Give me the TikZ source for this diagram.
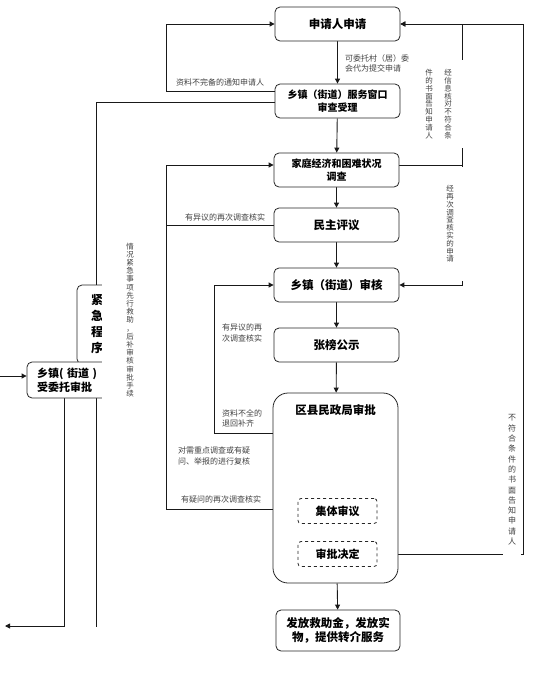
\documentclass[tikz,border=0pt]{standalone}
\usepackage{fontspec}
\setmainfont{Noto Sans CJK SC}
\usetikzlibrary{arrows.meta,backgrounds}
\begin{document}
\begin{tikzpicture}[x=1pt,y=-1pt,
  box/.style={draw=black!85, line width=0.8pt, rounded corners=5pt, fill=white,
    minimum width=125pt, minimum height=34pt, align=center, inner sep=2pt,
    font=\fontsize{11.5}{14}\selectfont\bfseries},
  dbox/.style={draw=black!85, line width=0.8pt, dashed, rounded corners=3pt, fill=white,
    minimum width=79pt, minimum height=25pt, font=\fontsize{11}{13}\selectfont\bfseries},
  lab/.style={font=\fontsize{8}{10.5}\selectfont, text=black!75, inner sep=1pt, align=left},
  vlab/.style={fill=white, text=black!75, align=center, inner sep=0pt,
    font=\fontsize{7.5}{7.8}\selectfont},
  conn/.style={line width=0.9pt, draw=black!90},
  arr/.style={conn, -{Triangle[length=5pt,width=5pt]}}
]
\useasboundingbox (0,0) rectangle (553,683);

% main column
\node[box] (b1) at (337.5,24) {申请人申请};
\node[box, font=\fontsize{10}{12.5}\selectfont\bfseries] (b2) at (337.5,101) {乡镇（街道）服务窗口\\审查受理};
\node[box, font=\fontsize{10}{13}\selectfont\bfseries] (b3) at (336.5,170) {家庭经济和困难状况\\调查};
\node[box] (b4) at (336.5,225) {民主评议};
\node[box] (b5) at (336.5,285) {乡镇（街道）审核};
\node[box] (b6) at (336.5,345) {张榜公示};
\node[box, rounded corners=15pt, minimum height=190pt] (b7) at (335.5,488) {};
\node[font=\fontsize{11.5}{14}\selectfont\bfseries] (b7t) at (335.5,410) {区县民政局审批};
\node[dbox] (b8) at (337.5,511) {集体审议};
\node[dbox] (b9) at (337.5,554) {审批决定};
\node[box, minimum height=41pt, minimum width=124pt, font=\fontsize{11.5}{14}\selectfont\bfseries] (b10) at (338,630.5) {发放救助金，发放实\\物，提供转介服务};

% emergency branch
\node[box, minimum width=40pt, minimum height=79pt, font=\fontsize{12}{16}\selectfont\bfseries] (jj) at (97,324.5) {紧\\急\\程\\序};
\node[box, minimum width=90pt, minimum height=36pt, text width=70pt, inner xsep=10pt, align=left,
  font=\fontsize{11}{14}\selectfont\bfseries] (sw) at (72,380) {乡镇( 街道 )\\受委托审批};
\node[vlab, minimum width=56pt, minimum height=170pt, font=\fontsize{7.5}{8.2}\selectfont] (qk) at (130,320)
  {情\\况\\紧\\急\\事\\项\\先\\行\\救\\助\\，\\后\\补\\审\\核\\审\\批\\手\\续};

% vertical labels on the right (white boxes over lines)
\node[vlab, minimum width=44pt, minimum height=88pt] (v1) at (448,104) {经\\信\\息\\核\\对\\不\\符\\合\\条};
\node[vlab, minimum width=14pt, minimum height=88pt] (v2) at (429,104) {件\\的\\书\\面\\告\\知\\申\\请\\人};
\node[vlab, minimum width=40pt, minimum height=114pt] (v3) at (450,224) {经\\再\\次\\调\\查\\核\\实\\的\\申\\请};
\node[vlab, minimum width=18pt, minimum height=156pt, font=\fontsize{8}{10.3}\selectfont] (v4) at (512,480)
  {不\\符\\合\\条\\件\\的\\书\\面\\告\\知\\申\\请\\人};

% horizontal labels
\node[lab] (l1) at (220,82) {资料不完备的通知申请人};
\node[lab, anchor=north west] (l2) at (344,53) {可委托村（居）委\\会代为提交申请};
\node[lab] (l3) at (225,217) {有异议的再次调查核实};
\node[lab, anchor=north west] (l4) at (221,323) {有异议的再\\次调查核实};
\node[lab, anchor=north west] (l5) at (221,408) {资料不全的\\退回补齐};
\node[lab, anchor=west] (l6) at (177,456) {对需重点调查或有疑\\问、举报的进行复核};
\node[lab] (l7) at (221,499) {有疑问的再次调查核实};

% coordinates
\coordinate (c1) at (166,91);
\coordinate (c2) at (166,24);
\coordinate (c3) at (96,102);
\coordinate (c4) at (96,627);
\coordinate (c5) at (166,509);
\coordinate (c6) at (166,165);
\coordinate (c7) at (166,225);
\coordinate (c8) at (214,433);
\coordinate (c9) at (214,285);
\coordinate (c10) at (462,165);
\coordinate (c11) at (462,24);
\coordinate (c12) at (462,285);
\coordinate (c13) at (523,554);
\coordinate (c14) at (523,24);
\coordinate (c15) at (0,376);
\coordinate (c16) at (64,626);
\coordinate (c17) at (5,626);

\begin{scope}[on background layer]
  \draw[arr] (b1) -- (b2);
  \draw[arr] (b2) -- (b3);
  \draw[arr] (b3) -- (b4);
  \draw[arr] (b4) -- (b5);
  \draw[arr] (b5) -- (b6);
  \draw[arr] (b6) -- (b7);
  \draw[arr] (b7) -- (b10);
  \draw[arr] (b2.west |- c1) -- (c1) -- (c2) -- (b1.west);
  \draw[conn] (b2.west |- c3) -- (c3) -- (c4);
  \draw[arr] (b7.west |- c5) -- (c5) -- (c6) -- (b3.west |- c6);
  \draw[conn] (b4.west) -- (c7);
  \draw[arr] (b7.west |- c8) -- (c8) -- (c9) -- (b5.west);
  \draw[arr] (b3.east |- c10) -- (c10) -- (c11) -- (b1.east);
  \draw[arr] (c10) -- (c12) -- (b5.east);
  \draw[arr] (b9.east) -- (c13) -- (c14) -- (b1.east);
  \draw[arr] (c15) -- (sw.west |- c15);
  \draw[arr] (sw.south -| c16) -- (c16) -- (c17);
\end{scope}
\end{tikzpicture}
\end{document}
